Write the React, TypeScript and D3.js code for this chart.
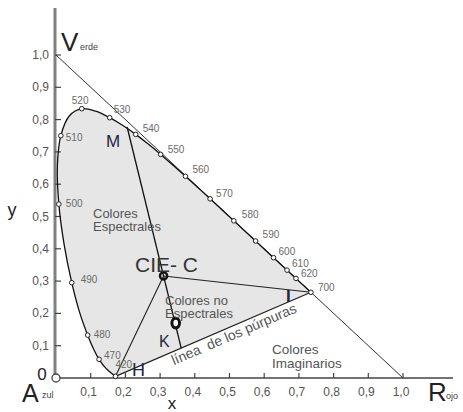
import React from "react";
import * as d3 from "d3";

const W = 463;
const H = 412;

// spectral locus (CIE 1931), wavelength in nm
const wavelengths = [420, 440, 450, 460, 470, 475, 480, 485, 490, 495, 500, 505, 510, 515, 520, 525, 530, 535, 540, 545, 550, 555, 560, 565, 570, 575, 580, 585, 590, 595, 600, 605, 610, 620, 630, 640, 700];
const locusX = [0.1714, 0.1644, 0.1566, 0.144, 0.1241, 0.1096, 0.0913, 0.0687, 0.0454, 0.0235, 0.0082, 0.0039, 0.0139, 0.0389, 0.0743, 0.1142, 0.1547, 0.1929, 0.2296, 0.2658, 0.3016, 0.3373, 0.3731, 0.4087, 0.4441, 0.4788, 0.5125, 0.5448, 0.5752, 0.6029, 0.627, 0.6482, 0.6658, 0.6915, 0.7079, 0.719, 0.7347];
const locusY = [0.0051, 0.0109, 0.0177, 0.0297, 0.0578, 0.0868, 0.1327, 0.2007, 0.295, 0.4127, 0.5384, 0.6548, 0.7502, 0.812, 0.8338, 0.8262, 0.8059, 0.7816, 0.7543, 0.7243, 0.6923, 0.6589, 0.6245, 0.5896, 0.5547, 0.5202, 0.4866, 0.4544, 0.4242, 0.3965, 0.3725, 0.3514, 0.334, 0.3083, 0.292, 0.2809, 0.2653];

const markedWl = [420, 470, 480, 490, 500, 510, 520, 530, 540, 550, 560, 570, 580, 590, 600, 610, 620, 700];

const tickValues = [0.1, 0.2, 0.3, 0.4, 0.5, 0.6, 0.7, 0.8, 0.9, 1.0];
const tickLabels = ["0,1", "0,2", "0,3", "0,4", "0,5", "0,6", "0,7", "0,8", "0,9", "1,0"];

// special points
const pointM = [0.205, 0.777];
const pointC = [0.31, 0.316];
const pointK = [0.345, 0.17];
const pointKend = [0.361, 0.092];

// label offsets for the wavelength numbers (px)
const wlOffset: Record<number, [number, number]> = {
  420: [0, -8], 470: [5, 0], 480: [6, 3], 490: [9, 0], 500: [7, 3], 510: [5, 5],
  520: [-10, -5], 530: [4, -5], 540: [7, -2], 550: [7, -1], 560: [7, -3], 570: [6, -2],
  580: [8, -3], 590: [7, -3], 600: [5, -3], 610: [5, -3], 620: [5, -1], 700: [7, -1],
};

const ink = "#1f2640";
const font = "'Liberation Sans', Arial, sans-serif";

export default function App() {
  const x = d3.scaleLinear().domain([0, 1]).range([56, 403]);
  const y = d3.scaleLinear().domain([0, 1]).range([378, 55]);

  const pts: [number, number][] = locusX.map((v, i) => [x(v), y(locusY[i])]);
  const line = d3.line().curve(d3.curveCatmullRom.alpha(0.5));
  const locusPath = line(pts) as string;
  const first = pts[0];
  const last = pts[pts.length - 1];

  const P = (p: number[]) => [x(p[0]), y(p[1])];
  const [mx, my] = P(pointM);
  const [cx, cy] = P(pointC);
  const [kx, ky] = P(pointK);
  const [kex, key2] = P(pointKend);

  const purpleAngle = (Math.atan2(last[1] - first[1], last[0] - first[0]) * 180) / Math.PI;
  // point on the purple line where its caption starts
  const tx = 0.34;
  const tyPix = first[1] + ((x(tx) - first[0]) * (last[1] - first[1])) / (last[0] - first[0]);

  return (
    <svg width={W} height={H} style={{ display: "block", position: "absolute", left: 0, top: 0 }}>
      <rect width={W} height={H} fill="#fff" />
      {/* shaded region */}
      <path d={locusPath + "Z"} fill="#e6e6e6" stroke="none" />

      {/* axes */}
      <line x1={55} y1={8} x2={55} y2={378} stroke="#808080" strokeWidth={3} />
      <line x1={55} y1={378} x2={453} y2={378} stroke="#444" strokeWidth={1.5} />
      {tickValues.map((t, i) => (
        <g key={"y" + i}>
          <line x1={55} x2={61} y1={y(t)} y2={y(t)} stroke="#444" strokeWidth={1.2} />
          <text x={49} y={y(t) + 4} textAnchor="end" fontFamily={font} fontSize={12} fill="#555">
            {tickLabels[i]}
          </text>
        </g>
      ))}
      {tickValues.map((t, i) => (
        <g key={"x" + i}>
          <line x1={x(t)} x2={x(t)} y1={378} y2={373} stroke="#444" strokeWidth={1.2} />
          <text x={x(t) - 2} y={396} textAnchor="middle" fontFamily={font} fontSize={12} fill="#555">
            {tickLabels[i]}
          </text>
        </g>
      ))}

      {/* diagonal x + y = 1 */}
      <line x1={x(0)} y1={y(1)} x2={x(1)} y2={y(0)} stroke="#333" strokeWidth={1} />

      {/* spectral locus and purple line */}
      <path d={locusPath} fill="none" stroke="#111" strokeWidth={1.3} />
      <line x1={first[0]} y1={first[1]} x2={last[0]} y2={last[1]} stroke="#222" strokeWidth={1.2} />

      {/* construction lines */}
      <line x1={mx} y1={my} x2={kex} y2={key2} stroke="#111" strokeWidth={1.3} />
      <line x1={cx} y1={cy} x2={first[0]} y2={first[1]} stroke="#222" strokeWidth={1.1} />
      <line x1={cx} y1={cy} x2={last[0]} y2={last[1]} stroke="#222" strokeWidth={1.1} />

      {/* wavelength markers */}
      {markedWl.map((wl) => {
        const i = wavelengths.indexOf(wl);
        const [px, py] = pts[i];
        const [dx, dy] = wlOffset[wl];
        return (
          <g key={wl}>
            <circle cx={px} cy={py} r={2.3} fill="#fff" stroke="#222" strokeWidth={1} />
            <text x={px + dx} y={py + dy} fontFamily={font} fontSize={10} fill="#6a6a6a">
              {wl}
            </text>
          </g>
        );
      })}

      <circle cx={x(0)} cy={y(0)} r={4} fill="#fff" stroke="#444" strokeWidth={1.3} />
      <circle cx={cx} cy={cy} r={3.6} fill="none" stroke="#111" strokeWidth={2.4} />
      <ellipse cx={kx} cy={ky} rx={3.8} ry={4.8} fill="#fff" stroke="#111" strokeWidth={3} />

      {/* labels */}
      <text x={61} y={51} fontFamily={font} fontSize={26} fill="#222">V</text>
      <text x={80} y={50} fontFamily={font} fontSize={9} fill="#444">erde</text>
      <text x={22} y={402} fontFamily={font} fontSize={25} fill="#222">A</text>
      <text x={42} y={398} fontFamily={font} fontSize={9} fill="#444">zul</text>
      <text x={42} y={380} textAnchor="middle" fontFamily={font} fontSize={17} fill="#222">0</text>
      <text x={428} y={401} fontFamily={font} fontSize={26} fill="#222">R</text>
      <text x={446} y={399} fontFamily={font} fontSize={9} fill="#444">ojo</text>
      <text x={172} y={409} textAnchor="middle" fontFamily={font} fontSize={17} fill="#222">x</text>
      <text x={12} y={216} textAnchor="middle" fontFamily={font} fontSize={18} fill="#222">y</text>

      <text x={106} y={147} fontFamily={font} fontSize={17} fill={ink}>M</text>
      <text x={159} y={347} fontFamily={font} fontSize={16} fill={ink}>K</text>
      <text x={132} y={376} fontFamily={font} fontSize={18} fill={ink}>H</text>
      <text x={286} y={302} fontFamily={font} fontSize={17} fontWeight="bold" fill={ink}>I</text>

      <text x={135} y={272} fontFamily={font} fontSize={21} fill="#333">CIE- C</text>
      <text fontFamily={font} fontSize={13} fill="#555">
        <tspan x={93} y={218}>Colores</tspan>
        <tspan x={93} y={231}>Espectrales</tspan>
      </text>
      <text fontFamily={font} fontSize={13} fill="#555">
        <tspan x={165} y={305}>Colores no</tspan>
        <tspan x={165} y={318}>Espectrales</tspan>
      </text>
      <text fontFamily={font} fontSize={13.5} fill="#555">
        <tspan x={272} y={354}>Colores</tspan>
        <tspan x={272} y={368}>Imaginarios</tspan>
      </text>
      <text
        transform={`translate(${x(tx)},${tyPix + 14}) rotate(${purpleAngle})`}
        fontFamily={font}
        fontSize={14}
        fill="#555"
        style={{ whiteSpace: "pre" }}
      >
        {"línea  de los púrpuras"}
      </text>
    </svg>
  );
}
